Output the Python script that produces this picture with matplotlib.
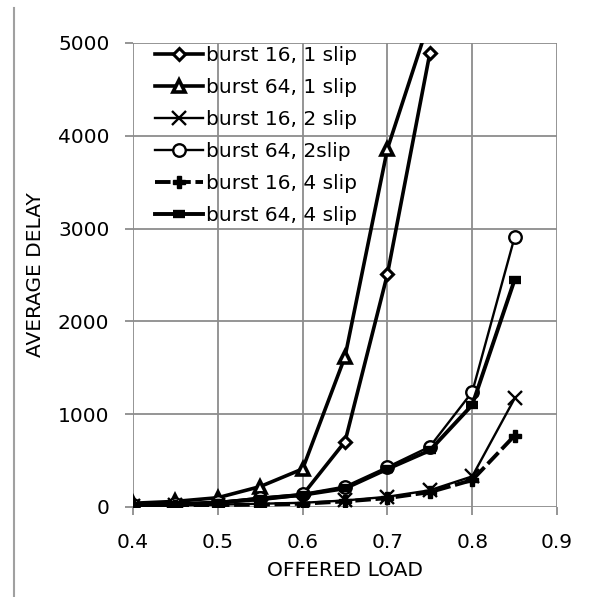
import numpy as np
import matplotlib.pyplot as plt
from matplotlib.lines import Line2D

plt.rcParams['font.family'] = ['DejaVu Sans']

load = [0.4, 0.45, 0.5, 0.55, 0.6, 0.65, 0.7, 0.75, 0.8, 0.85]

b16_1slip = [20, 30, 50, 80, 130, 705, 2510, 4890]
b64_1slip = [40, 60, 100, 220, 410, 1620, 3860, 5260]
b16_2slip = [12, 18, 25, 35, 45, 70, 110, 180, 330, 1170]
b64_2slip = [20, 30, 50, 100, 140, 220, 430, 650, 1240, 2910]
b16_4slip = [10, 15, 20, 25, 35, 60, 95, 160, 290, 770]
b64_4slip = [15, 25, 45, 90, 130, 200, 410, 610, 1100, 2450]

fig = plt.figure(figsize=(5.89, 5.97), dpi=100)
ax = fig.add_axes([0.2258, 0.1508, 0.72, 0.7772])

ax.plot(load[:len(b16_1slip)], b16_1slip, color='k', lw=2.6, marker='D', ms=6,
        mfc='white', mec='k', mew=2.2, label='burst 16, 1 slip')
ax.plot(load[:len(b64_1slip)], b64_1slip, color='k', lw=2.6, marker='^', ms=8,
        mfc='white', mec='k', mew=2.6, label='burst 64, 1 slip')
ax.plot(load, b16_2slip, color='k', lw=1.7, marker='x', ms=10,
        mew=1.7, label='burst 16, 2 slip')
ax.plot(load, b64_2slip, color='k', lw=1.7, marker='o', ms=9,
        mfc='white', mec='k', mew=1.7, label='burst 64, 2slip')
ax.plot(load, b16_4slip, color='k', lw=2.8, ls=(0, (4, 1.2)), marker='P', ms=8,
        mfc='k', mec='k', label='burst 16, 4 slip')
ax.plot(load, b64_4slip, color='k', lw=2.8, marker='_', ms=9,
        mew=6, label='burst 64, 4 slip')

ax.set_xlim(0.4, 0.9)
ax.set_ylim(0, 5000)
ax.set_xticks([0.4, 0.5, 0.6, 0.7, 0.8, 0.9])
ax.set_xticklabels(['0.4', '0.5', '0.6', '0.7', '0.8', '0.9'])
ax.set_yticks([0, 1000, 2000, 3000, 4000, 5000])
ax.grid(True, color='#8c8c8c', lw=1.3)
ax.set_axisbelow(True)
for s in ax.spines.values():
    s.set_visible(False)
ax.tick_params(axis='both', length=6, width=1.3, color='#8c8c8c',
               labelsize=14.5)
ax.tick_params(axis='y', pad=11)
ax.tick_params(axis='x', pad=13)
ax.set_xlabel('OFFERED LOAD', fontsize=14.5, labelpad=6)
ax.set_ylabel('AVERAGE DELAY', fontsize=14.5, labelpad=9)

ax.legend(loc='upper left', bbox_to_anchor=(0.052, 0.994), frameon=False,
          fontsize=14.5, handlelength=2.4, handletextpad=0.15,
          labelspacing=0.65, borderaxespad=0, borderpad=0)

fig.add_artist(Line2D([14 / 589, 14 / 589], [0.0, 1 - 8 / 597],
                      color='#a0a0a0', lw=1.5))

plt.savefig('out.png', dpi=100)
